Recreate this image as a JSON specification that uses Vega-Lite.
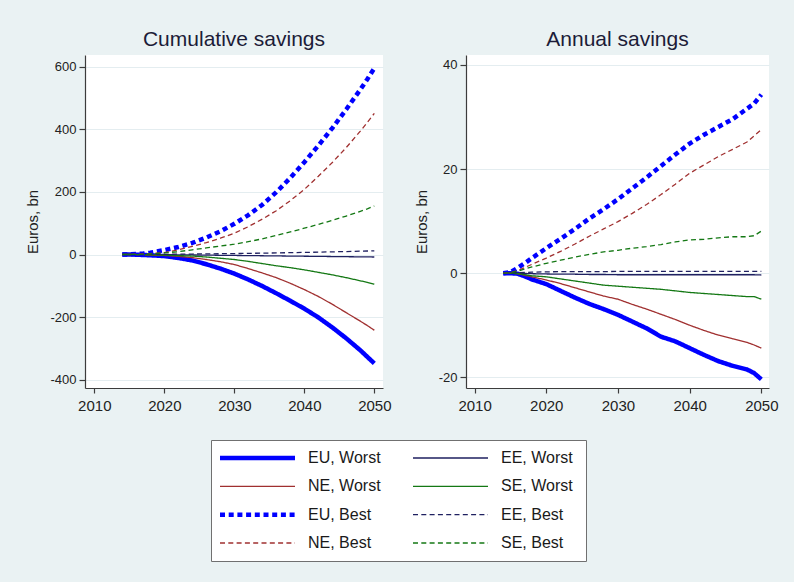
{
  "$schema": "https://vega.github.io/schema/vega-lite/v6.json",
  "background": "#EAF2F3",
  "padding": {"left": 25, "top": 29, "right": 15, "bottom": 20},
  "datasets": {
    "cum": [
      {"yr":2014,"EUW":0,"EEW":0,"NEW":0,"SEW":0,"EUB":0,"EEB":0,"NEB":0,"SEB":0},
      {"yr":2015,"EUW":0,"EEW":0,"NEW":0,"SEW":0,"EUB":0.3,"EEB":0,"NEB":0.2,"SEB":0.1},
      {"yr":2016,"EUW":-0.5,"EEW":-0.1,"NEW":-0.3,"SEW":-0.2,"EUB":1.5,"EEB":0,"NEB":1,"SEB":0.5},
      {"yr":2017,"EUW":-1.5,"EEW":-0.2,"NEW":-1,"SEW":-0.5,"EUB":3,"EEB":0.1,"NEB":2,"SEB":1},
      {"yr":2018,"EUW":-2.5,"EEW":-0.3,"NEW":-2,"SEW":-1,"EUB":6,"EEB":0.2,"NEB":3,"SEB":2},
      {"yr":2020,"EUW":-5,"EEW":-0.6,"NEW":-3,"SEW":-2,"EUB":14,"EEB":0.5,"NEB":6,"SEB":5},
      {"yr":2022,"EUW":-11,"EEW":-1,"NEW":-6,"SEW":-3.5,"EUB":24,"EEB":1,"NEB":15,"SEB":9},
      {"yr":2024,"EUW":-19,"EEW":-1.5,"NEW":-10,"SEW":-5,"EUB":37,"EEB":1.5,"NEB":26,"SEB":15},
      {"yr":2026,"EUW":-31,"EEW":-2,"NEW":-16,"SEW":-8,"EUB":54,"EEB":2,"NEB":38,"SEB":21},
      {"yr":2028,"EUW":-45,"EEW":-2.5,"NEW":-23,"SEW":-12,"EUB":74,"EEB":2.5,"NEB":52,"SEB":27},
      {"yr":2030,"EUW":-61,"EEW":-3,"NEW":-32,"SEW":-16,"EUB":98,"EEB":3,"NEB":68,"SEB":33},
      {"yr":2032,"EUW":-80,"EEW":-3.5,"NEW":-45,"SEW":-22,"EUB":126,"EEB":3.7,"NEB":89,"SEB":41},
      {"yr":2034,"EUW":-101,"EEW":-4,"NEW":-59,"SEW":-29,"EUB":159,"EEB":4.4,"NEB":113,"SEB":50},
      {"yr":2036,"EUW":-124,"EEW":-4.5,"NEW":-74,"SEW":-36,"EUB":199,"EEB":5.1,"NEB":140,"SEB":61},
      {"yr":2038,"EUW":-148,"EEW":-5,"NEW":-92,"SEW":-42,"EUB":245,"EEB":5.9,"NEB":172,"SEB":72},
      {"yr":2040,"EUW":-173,"EEW":-5.5,"NEW":-112,"SEW":-49,"EUB":295,"EEB":6.7,"NEB":208,"SEB":84},
      {"yr":2042,"EUW":-201,"EEW":-6,"NEW":-134,"SEW":-57,"EUB":348,"EEB":7.6,"NEB":250,"SEB":96},
      {"yr":2044,"EUW":-233,"EEW":-6.5,"NEW":-159,"SEW":-65,"EUB":404,"EEB":8.5,"NEB":294,"SEB":109},
      {"yr":2046,"EUW":-268,"EEW":-7,"NEW":-186,"SEW":-74,"EUB":464,"EEB":9.5,"NEB":342,"SEB":123},
      {"yr":2048,"EUW":-306,"EEW":-7.5,"NEW":-213,"SEW":-84,"EUB":527,"EEB":10.6,"NEB":394,"SEB":138},
      {"yr":2049,"EUW":-327,"EEW":-7.7,"NEW":-227,"SEW":-89,"EUB":560,"EEB":11.2,"NEB":422,"SEB":146},
      {"yr":2050,"EUW":-348,"EEW":-8,"NEW":-242,"SEW":-95,"EUB":595,"EEB":11.8,"NEB":451,"SEB":155}
    ],
    "ann": [
      {"yr":2014,"EUW":0,"EEW":0,"NEW":0,"SEW":0,"EUB":0,"EEB":0,"NEB":0,"SEB":0},
      {"yr":2015,"EUW":0,"EEW":0,"NEW":0,"SEW":0,"EUB":0.2,"EEB":0.05,"NEB":0.1,"SEB":0.1},
      {"yr":2016,"EUW":-0.1,"EEW":0,"NEW":-0.1,"SEW":-0.1,"EUB":1.0,"EEB":0.1,"NEB":0.5,"SEB":0.4},
      {"yr":2017,"EUW":-0.6,"EEW":-0.05,"NEW":-0.4,"SEW":-0.3,"EUB":1.9,"EEB":0.15,"NEB":1.1,"SEB":0.8},
      {"yr":2018,"EUW":-1.2,"EEW":-0.1,"NEW":-0.7,"SEW":-0.5,"EUB":2.9,"EEB":0.2,"NEB":1.7,"SEB":1.2},
      {"yr":2020,"EUW":-2.1,"EEW":-0.15,"NEW":-1.3,"SEW":-0.7,"EUB":4.8,"EEB":0.25,"NEB":2.9,"SEB":1.9},
      {"yr":2022,"EUW":-3.4,"EEW":-0.2,"NEW":-2.0,"SEW":-1.1,"EUB":6.6,"EEB":0.3,"NEB":4.2,"SEB":2.5},
      {"yr":2024,"EUW":-4.7,"EEW":-0.2,"NEW":-2.8,"SEW":-1.5,"EUB":8.5,"EEB":0.3,"NEB":5.6,"SEB":3.1},
      {"yr":2026,"EUW":-5.9,"EEW":-0.25,"NEW":-3.6,"SEW":-1.9,"EUB":10.5,"EEB":0.3,"NEB":7.1,"SEB":3.6},
      {"yr":2028,"EUW":-6.9,"EEW":-0.25,"NEW":-4.4,"SEW":-2.3,"EUB":12.3,"EEB":0.3,"NEB":8.5,"SEB":4.1},
      {"yr":2030,"EUW":-8.0,"EEW":-0.3,"NEW":-5.0,"SEW":-2.5,"EUB":14.2,"EEB":0.35,"NEB":9.9,"SEB":4.4},
      {"yr":2032,"EUW":-9.3,"EEW":-0.3,"NEW":-6.0,"SEW":-2.7,"EUB":16.3,"EEB":0.35,"NEB":11.5,"SEB":4.8},
      {"yr":2034,"EUW":-10.6,"EEW":-0.3,"NEW":-6.9,"SEW":-2.9,"EUB":18.4,"EEB":0.35,"NEB":13.2,"SEB":5.1},
      {"yr":2036,"EUW":-12.2,"EEW":-0.3,"NEW":-7.9,"SEW":-3.1,"EUB":20.6,"EEB":0.35,"NEB":15.1,"SEB":5.5},
      {"yr":2038,"EUW":-13.1,"EEW":-0.3,"NEW":-8.9,"SEW":-3.4,"EUB":22.8,"EEB":0.35,"NEB":17.1,"SEB":6.0},
      {"yr":2040,"EUW":-14.4,"EEW":-0.3,"NEW":-10.0,"SEW":-3.7,"EUB":24.9,"EEB":0.35,"NEB":19.2,"SEB":6.4},
      {"yr":2042,"EUW":-15.7,"EEW":-0.3,"NEW":-11.0,"SEW":-3.9,"EUB":26.6,"EEB":0.35,"NEB":20.8,"SEB":6.5},
      {"yr":2044,"EUW":-16.9,"EEW":-0.3,"NEW":-11.9,"SEW":-4.1,"EUB":28.1,"EEB":0.35,"NEB":22.4,"SEB":6.8},
      {"yr":2046,"EUW":-17.8,"EEW":-0.3,"NEW":-12.6,"SEW":-4.3,"EUB":29.6,"EEB":0.35,"NEB":23.8,"SEB":7.0},
      {"yr":2048,"EUW":-18.5,"EEW":-0.3,"NEW":-13.3,"SEW":-4.5,"EUB":31.6,"EEB":0.35,"NEB":25.2,"SEB":7.0},
      {"yr":2049,"EUW":-19.2,"EEW":-0.3,"NEW":-13.8,"SEW":-4.5,"EUB":32.6,"EEB":0.35,"NEB":26.4,"SEB":7.2},
      {"yr":2050,"EUW":-20.4,"EEW":-0.35,"NEW":-14.4,"SEW":-5.0,"EUB":34.3,"EEB":0.35,"NEB":27.6,"SEB":8.1}
    ]
  },
  "vconcat": [
    {
      "hconcat": [
        {
          "width": 298, "height": 333,
          "view": {"fill": "white", "stroke": null},
          "title": {"text": "Cumulative savings"},
          "data": {"name": "cum"},
          "transform": [{"fold": ["EUW","EEW","NEW","SEW","EUB","EEB","NEB","SEB"], "as": ["s","v"]}],
          "mark": {"type": "line", "strokeCap": "butt"},
          "encoding": {
            "x": {"field": "yr", "type": "quantitative", "scale": {"domain": [2008.67, 2051.24], "nice": false, "zero": false}, "axis": {"values": [2010,2020,2030,2040,2050], "format": "d", "title": null}},
            "y": {"field": "v", "type": "quantitative", "scale": {"domain": [-426.5, 637.4], "nice": false, "zero": false}, "axis": {"values": [-400,-200,0,200,400,600], "title": "Euros, bn", "labelExpr": "toString(datum.value)"}},
            "color": {"field": "s", "type": "nominal", "legend": null, "scale": {"domain": ["EUW","EEW","NEW","SEW","EUB","EEB","NEB","SEB"], "range": ["#0000FF","#1F2060","#A03030","#147814","#0000FF","#1F2060","#A03030","#147814"]}},
            "strokeDash": {"field": "s", "type": "nominal", "legend": null, "scale": {"domain": ["EUW","EEW","NEW","SEW","EUB","EEB","NEB","SEB"], "range": [[1,0],[1,0],[1,0],[1,0],[5,3.7],[5,3.3],[5,3.3],[5,3.3]]}},
            "strokeWidth": {"condition": {"test": "datum.s === 'EUW' || datum.s === 'EUB'", "value": 4.5}, "value": 1.3}
          }
        },
        {
          "width": 303, "height": 333,
          "view": {"fill": "white", "stroke": null},
          "title": {"text": "Annual savings"},
          "data": {"name": "ann"},
          "transform": [{"fold": ["EUW","EEW","NEW","SEW","EUB","EEB","NEB","SEB"], "as": ["s","v"]}],
          "mark": {"type": "line", "strokeCap": "butt"},
          "encoding": {
            "x": {"field": "yr", "type": "quantitative", "scale": {"domain": [2008.8, 2051.07], "nice": false, "zero": false}, "axis": {"values": [2010,2020,2030,2040,2050], "format": "d", "title": null}},
            "y": {"field": "v", "type": "quantitative", "scale": {"domain": [-22.06, 41.92], "nice": false, "zero": false}, "axis": {"values": [-20,0,20,40], "title": "Euros, bn", "labelExpr": "toString(datum.value)"}},
            "color": {"field": "s", "type": "nominal", "legend": null, "scale": {"domain": ["EUW","EEW","NEW","SEW","EUB","EEB","NEB","SEB"], "range": ["#0000FF","#1F2060","#A03030","#147814","#0000FF","#1F2060","#A03030","#147814"]}},
            "strokeDash": {"field": "s", "type": "nominal", "legend": null, "scale": {"domain": ["EUW","EEW","NEW","SEW","EUB","EEB","NEB","SEB"], "range": [[1,0],[1,0],[1,0],[1,0],[5,3.7],[5,3.3],[5,3.3],[5,3.3]]}},
            "strokeWidth": {"condition": {"test": "datum.s === 'EUW' || datum.s === 'EUB'", "value": 4.5}, "value": 1.3}
          }
        }
      ],
      "spacing": 83,
      "bounds": "flush"
    },
    {
      "hconcat": [
        {"width": 126, "height": 121, "data": {"values": []}, "mark": "point"},
        {
          "width": 375, "height": 121,
          "view": {"fill": "white", "stroke": "#707070", "strokeWidth": 1},
          "data": {"values": [
            {"s": "EUW", "lab": "EU, Worst", "c": 0, "r": 0},
            {"s": "EEW", "lab": "EE, Worst", "c": 1, "r": 0},
            {"s": "NEW", "lab": "NE, Worst", "c": 0, "r": 1},
            {"s": "SEW", "lab": "SE, Worst", "c": 1, "r": 1},
            {"s": "EUB", "lab": "EU, Best", "c": 0, "r": 2},
            {"s": "EEB", "lab": "EE, Best", "c": 1, "r": 2},
            {"s": "NEB", "lab": "NE, Best", "c": 0, "r": 3},
            {"s": "SEB", "lab": "SE, Best", "c": 1, "r": 3}
          ]},
          "encoding": {
            "x": {"field": "c", "type": "ordinal", "scale": {"type": "point", "domain": [0,1], "range": [9,202], "padding": 0}, "axis": null},
            "y": {"field": "r", "type": "ordinal", "scale": {"type": "point", "domain": [0,1,2,3], "range": [18,103], "padding": 0}, "axis": null}
          },
          "layer": [
            {
              "mark": {"type": "rule", "x2Offset": 75, "strokeCap": "butt"},
              "encoding": {
                "x2": {"field": "c"},
                "color": {"field": "s", "type": "nominal", "legend": null, "scale": {"domain": ["EUW","EEW","NEW","SEW","EUB","EEB","NEB","SEB"], "range": ["#0000FF","#1F2060","#A03030","#147814","#0000FF","#1F2060","#A03030","#147814"]}},
                "strokeDash": {"field": "s", "type": "nominal", "legend": null, "scale": {"domain": ["EUW","EEW","NEW","SEW","EUB","EEB","NEB","SEB"], "range": [[1,0],[1,0],[1,0],[1,0],[5,3.7],[5,3.3],[5,3.3],[5,3.3]]}},
                "strokeWidth": {"condition": {"test": "datum.s === 'EUW' || datum.s === 'EUB'", "value": 4.5}, "value": 1.3}
              }
            },
            {
              "mark": {"type": "text", "align": "left", "baseline": "middle", "dx": 88, "fontSize": 16, "color": "#1A1A1A", "font": "Liberation Sans"},
              "encoding": {"text": {"field": "lab"}}
            }
          ]
        }
      ],
      "spacing": 0,
      "bounds": "flush"
    }
  ],
  "spacing": 26,
  "bounds": "full",
  "config": {
    "font": "Liberation Sans",
    "view": {"stroke": null},
    "title": {"fontSize": 21, "fontWeight": "normal", "color": "#1C1C38", "offset": 5, "baseline": "alphabetic", "anchor": "middle", "font": "Liberation Sans"},
    "axis": {"domainColor": "#3C3C3C", "tickColor": "#3C3C3C", "labelColor": "#222222", "titleColor": "#222222", "labelFont": "Liberation Sans", "titleFont": "Liberation Sans", "titleFontWeight": "normal", "domainWidth": 1.2, "tickWidth": 1.2},
    "axisX": {"grid": false, "labelFontSize": 15, "tickSize": 5, "labelPadding": 5},
    "axisY": {"grid": true, "gridColor": "#E4EDF0", "labelFontSize": 13, "tickSize": 6, "labelPadding": 3, "titleFontSize": 15, "titlePadding": 9}
  }
}
